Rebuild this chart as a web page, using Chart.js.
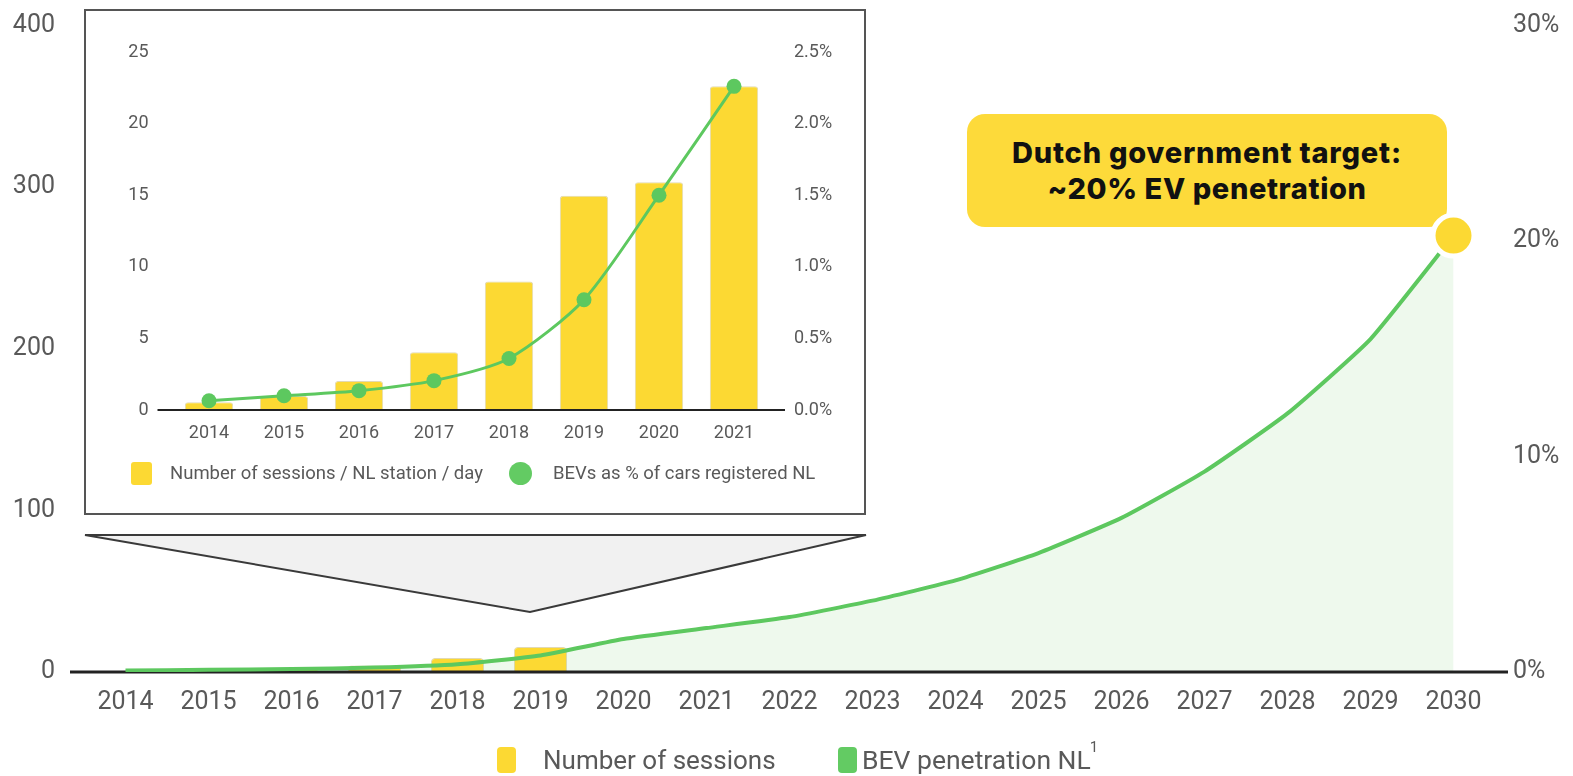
<!DOCTYPE html>
<html>
<head>
<meta charset="utf-8">
<script src="https://cdn.jsdelivr.net/npm/chart.js@4.4.1/dist/chart.umd.min.js"></script>
<style>
  html, body { margin: 0; padding: 0; background: #fff; width: 1573px; height: 776px; overflow: hidden; font-family: Roboto, sans-serif; }
  #wrap { position: relative; width: 1573px; height: 776px; }
  #zoomShape { position: absolute; left: 0; top: 0; z-index: 1; }
  #callout { position: absolute; left: 967px; top: 114px; width: 480px; height: 113px; border-radius: 18px; background: #FDDA3A; z-index: 1;
             display: flex; flex-direction: column; justify-content: center; align-items: center;
             font-family: Inter, sans-serif; font-weight: 800; font-size: 29px; line-height: 36px; color: #111; }
  #callout .l1 { letter-spacing: 0.8px; }
  #callout .l2 { letter-spacing: 0.6px; }
  #mainCanvas { position: absolute; left: 0; top: 0; z-index: 2; }
  #inset { position: absolute; left: 84px; top: 9px; width: 782px; height: 506px; box-sizing: border-box; border: 2px solid #555; background: #fff; z-index: 3; }
  #insetCanvas { position: absolute; left: 0; top: 0; }
  .lg { position: absolute; color: #595959; white-space: nowrap; line-height: 1; }
  .box { position: absolute; }
</style>
</head>
<body>
<div id="wrap">
  <svg id="zoomShape" width="1573" height="776">
    <polygon points="85,535 866,535 530,612" fill="#f1f1f1" stroke="#3a3a3a" stroke-width="2" stroke-linejoin="miter"/>
  </svg>
  <div id="callout"><div class="l1">Dutch government target:</div><div class="l2">~20% EV penetration</div></div>
  <canvas id="mainCanvas" width="1573" height="776"></canvas>

  <!-- main legend -->
  <div class="box" style="left:497px;top:747px;width:19px;height:26px;border-radius:4px;background:#FCD933;z-index:4;"></div>
  <div class="lg" style="left:543px;top:747px;font-size:26px;z-index:4;">Number of sessions</div>
  <div class="box" style="left:838px;top:747px;width:19px;height:26px;border-radius:4px;background:#63CB63;z-index:4;"></div>
  <div class="lg" style="left:862px;top:747px;font-size:26.5px;z-index:4;">BEV penetration NL<sup style="font-size:15px;position:relative;top:-7px;vertical-align:top;margin-left:-1px;">1</sup></div>

  <div id="inset">
    <canvas id="insetCanvas" width="778" height="502"></canvas>
    <div class="box" style="left:45px;top:451px;width:21px;height:23px;border-radius:3px;background:#FCD933;"></div>
    <div class="lg" style="left:84px;top:453px;font-size:18.5px;">Number of sessions / NL station / day</div>
    <div class="box" style="left:423px;top:451px;width:23px;height:23px;border-radius:50%;background:#63CB63;"></div>
    <div class="lg" style="left:467px;top:453px;font-size:18.5px;">BEVs as % of cars registered NL</div>
  </div>
</div>

<script>
// ---------------- DATA ----------------
const mainYears = ['2014','2015','2016','2017','2018','2019','2020','2021','2022','2023','2024','2025','2026','2027','2028','2029','2030'];
const mainSessions = [0.5, 1.0, 2.0, 4.0, 8.7, 15.5, null, null, null, null, null, null, null, null, null, null, null];
const mainBevShare = [0.065, 0.10, 0.135, 0.205, 0.36, 0.77, 1.53, 2.04, 2.55, 3.31, 4.25, 5.52, 7.15, 9.3, 12.0, 15.45, 20.25];
const mainSessionTicks = [0, 100, 200, 300, 400];
const mainShareTicks = [0, 10, 20, 30];

const insetYears = ['2014','2015','2016','2017','2018','2019','2020','2021'];
const insetSessions = [0.54, 0.98, 2.03, 4.03, 8.97, 14.97, 15.9, 22.6];
const insetBevShare = [0.065, 0.10, 0.135, 0.205, 0.36, 0.77, 1.50, 2.26];
const insetSessionTicks = [0, 5, 10, 15, 20, 25];
const insetShareTicks = [0, 0.5, 1.0, 1.5, 2.0, 2.5];

// ---------------- STYLE ----------------
const YELLOW = '#FCD933';
const GREEN = '#5DC85F';
const FILL = 'rgba(99, 200, 90, 0.11)';
const TEXT = '#595959';

Chart.defaults.font.family = 'Roboto, sans-serif';
Chart.defaults.color = TEXT;

function fixedTicks(list) { return s => { s.ticks = list.map(v => ({ value: v })); }; }
function fitWidth(w) { return s => { s.width = w; s.paddingTop = 0; s.paddingBottom = 0; }; }
function fitHeight(h) { return s => { s.height = h; s.paddingLeft = 0; s.paddingRight = 0; }; }

function baselinePlugin(extL, extR, width) {
  return {
    id: 'baseline',
    afterDatasetDraw(chart, args) {
      if (args.index !== 0) return;
      const { ctx, chartArea } = chart;
      const y = chart.scales.y.getPixelForValue(0);
      ctx.save();
      ctx.strokeStyle = '#222';
      ctx.lineWidth = width;
      ctx.beginPath();
      ctx.moveTo(chartArea.left - extL, y);
      ctx.lineTo(chartArea.right + extR, y);
      ctx.stroke();
      ctx.restore();
    }
  };
}

const lastIdx = mainBevShare.length - 1;

new Chart(document.getElementById('mainCanvas'), {
  type: 'bar',
  data: {
    labels: mainYears,
    datasets: [
      {
        type: 'bar', label: 'Number of sessions', data: mainSessions, yAxisID: 'y',
        backgroundColor: YELLOW, borderColor: 'rgba(170,145,40,0.35)', borderWidth: 1,
        borderRadius: { topLeft: 4, topRight: 4 }, borderSkipped: 'bottom',
        barPercentage: 0.64, categoryPercentage: 1, order: 1
      },
      {
        type: 'line', label: 'BEV penetration NL', data: mainBevShare, yAxisID: 'y1',
        borderColor: GREEN, borderWidth: 4, tension: 0.15, fill: 'origin', backgroundColor: FILL,
        pointRadius: mainBevShare.map((v, i) => i === lastIdx ? 20.5 : 0),
        pointHoverRadius: mainBevShare.map((v, i) => i === lastIdx ? 20.5 : 0),
        pointBackgroundColor: YELLOW, pointBorderColor: '#fff', pointBorderWidth: 5,
        order: 0
      }
    ]
  },
  options: {
    responsive: false, animation: false, devicePixelRatio: 1,
    layout: { padding: { top: 22.7, left: 0, right: 0, bottom: 0 } },
    plugins: { legend: { display: false }, tooltip: { enabled: false }, filler: { drawTime: 'beforeDatasetsDraw' } },
    scales: {
      x: {
        offset: true, grid: { display: false, drawTicks: false }, border: { display: false },
        ticks: { font: { size: 25 }, padding: 16, maxRotation: 0, autoSkip: false, color: TEXT },
        afterFit: fitHeight(104)
      },
      y: {
        position: 'left', min: 0, max: 400,
        grid: { display: false, drawTicks: false }, border: { display: false },
        ticks: { font: { size: 25 }, padding: 29, color: TEXT },
        afterBuildTicks: fixedTicks(mainSessionTicks),
        afterFit: fitWidth(84)
      },
      y1: {
        position: 'right', min: 0, max: 30,
        grid: { display: false, drawTicks: false }, border: { display: false },
        ticks: { font: { size: 25 }, padding: 18, color: TEXT, callback: v => v + '%' },
        afterBuildTicks: fixedTicks(mainShareTicks),
        afterFit: fitWidth(78)
      }
    }
  },
  plugins: [baselinePlugin(14, 13, 3)]
});

new Chart(document.getElementById('insetCanvas'), {
  type: 'bar',
  data: {
    labels: insetYears,
    datasets: [
      {
        type: 'bar', label: 'Number of sessions / NL station / day', data: insetSessions, yAxisID: 'y',
        backgroundColor: YELLOW, borderColor: 'rgba(170,145,40,0.35)', borderWidth: 1,
        borderRadius: { topLeft: 3, topRight: 3 }, borderSkipped: 'bottom',
        barPercentage: 0.644, categoryPercentage: 1, order: 1
      },
      {
        type: 'line', label: 'BEVs as % of cars registered NL', data: insetBevShare, yAxisID: 'y1',
        borderColor: GREEN, borderWidth: 3, tension: 0.25, fill: false,
        pointRadius: 7.5, pointHoverRadius: 7.5, pointBackgroundColor: GREEN, pointBorderWidth: 0,
        order: 0
      }
    ]
  },
  options: {
    responsive: false, animation: false, devicePixelRatio: 1,
    layout: { padding: { top: 41, left: 0, right: 0, bottom: 0 } },
    plugins: { legend: { display: false }, tooltip: { enabled: false } },
    scales: {
      x: {
        offset: true, grid: { display: false, drawTicks: false }, border: { display: false },
        ticks: { font: { size: 18 }, padding: 13, maxRotation: 0, autoSkip: false, color: TEXT },
        afterFit: fitHeight(103)
      },
      y: {
        position: 'left', min: 0, max: 25,
        grid: { display: false, drawTicks: false }, border: { display: false },
        ticks: { font: { size: 18 }, padding: 23, color: TEXT },
        afterBuildTicks: fixedTicks(insetSessionTicks),
        afterFit: fitWidth(85.5)
      },
      y1: {
        position: 'right', min: 0, max: 2.5,
        grid: { display: false, drawTicks: false }, border: { display: false },
        ticks: { font: { size: 18 }, padding: 22.5, color: TEXT, callback: v => Number(v).toFixed(1) + '%' },
        afterBuildTicks: fixedTicks(insetShareTicks),
        afterFit: fitWidth(92.5)
      }
    }
  },
  plugins: [baselinePlugin(14, 13.5, 2)]
});
</script>
</body>
</html>
